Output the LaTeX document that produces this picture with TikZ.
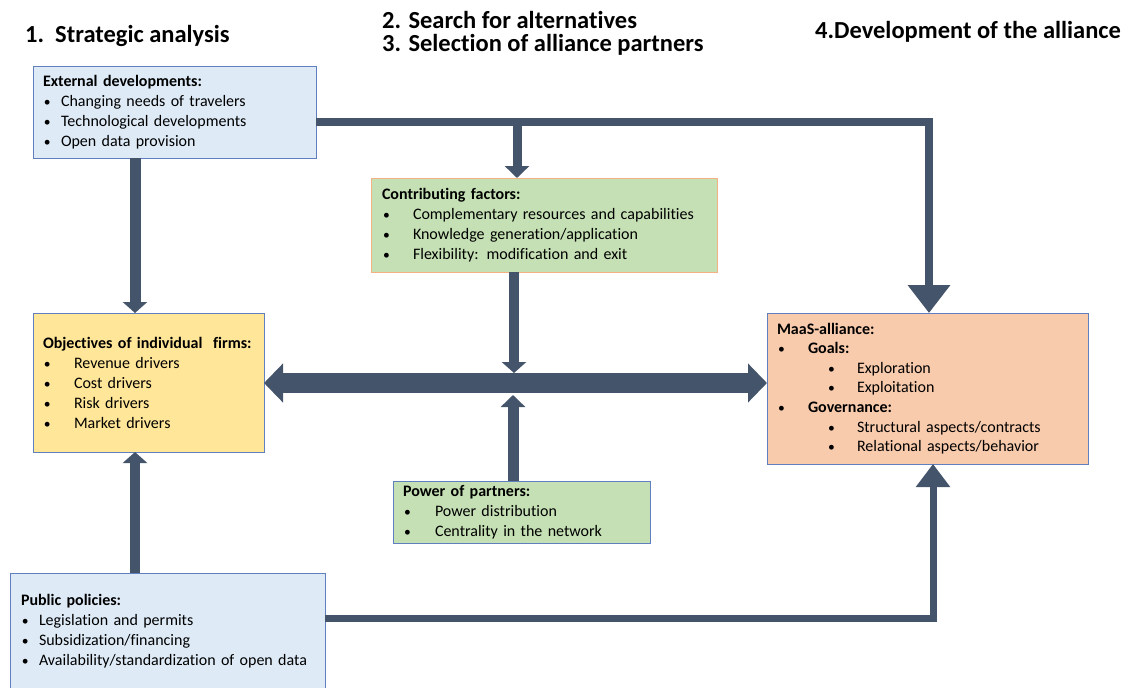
\documentclass[tikz,border=0pt]{standalone}
\usepackage{fontspec}
\setmainfont{Carlito}[Ligatures=CommonOff]
\usetikzlibrary{arrows.meta}
\definecolor{bluefill}{HTML}{DEEBF7}
\definecolor{boxline}{HTML}{5F7FBF}
\definecolor{greenfill}{HTML}{C5E0B4}
\definecolor{orangeline}{HTML}{F4B183}
\definecolor{yellowfill}{HTML}{FFE699}
\definecolor{peachfill}{HTML}{F8CBAD}
\definecolor{arrowc}{HTML}{44546A}
\newcommand\bu[2]{\makebox[#1][l]{\hspace{1pt}\scalebox{0.85}{\textbullet}}#2}
\tikzset{
  box/.style={draw=boxline, line width=0.9pt, anchor=north west, inner xsep=10pt, inner ysep=0pt,
    outer sep=0pt, align=left, font=\fontsize{16}{20}\selectfont},
  title/.style={anchor=base west, inner sep=0pt, font=\fontsize{24.5}{28}\selectfont\bfseries},
  conn/.style={draw=arrowc, line join=miter},
}
\begin{document}
\begin{tikzpicture}[x=1pt,y=-1pt]
\useasboundingbox (0,0) rectangle (1125,688);
% titles
\node[title] (t1) at (25,42) {1.\ \ Strategic analysis};
\node[title] (t2) at (382,28) {2. Search for alternatives};
\node[title] (t3) at (382,51) {3. Selection of alliance partners};
\node[title] (t4) at (815,38) {4.Development of the alliance};
% boxes
\node[box, fill=bluefill, text width=263pt, minimum height=92pt] (ext) at (33,66)
 {\textbf{External developments:}\\
  \bu{18pt}{Changing needs of travelers}\\
  \bu{18pt}{Technological developments}\\
  \bu{18pt}{Open data provision}};
\node[box, fill=greenfill, draw=orangeline, text width=324pt, minimum height=94pt, inner xsep=11pt] (contrib) at (371,178)
 {\textbf{Contributing factors:}\\
  \bu{31pt}{Complementary resources and capabilities}\\
  \bu{31pt}{Knowledge generation/application}\\
  \bu{31pt}{Flexibility: modification and exit}};
\node[box, fill=yellowfill, text width=211pt, minimum height=139pt] (obj) at (33,313)
 {\textbf{Objectives of individual\ \ firms:}\\
  \bu{31pt}{Revenue drivers}\\
  \bu{31pt}{Cost drivers}\\
  \bu{31pt}{Risk drivers}\\
  \bu{31pt}{Market drivers}};
\node[box, fill=peachfill, text width=301pt, minimum height=151pt, font=\fontsize{16}{19.6}\selectfont] (maas) at (767,313)
 {\textbf{MaaS-alliance:}\\
  \bu{31pt}{\textbf{Goals:}}\\
  \hspace{50pt}\bu{30pt}{Exploration}\\
  \hspace{50pt}\bu{30pt}{Exploitation}\\
  \bu{31pt}{\textbf{Governance:}}\\
  \hspace{50pt}\bu{30pt}{Structural aspects/contracts}\\
  \hspace{50pt}\bu{30pt}{Relational aspects/behavior}};
\node[box, fill=greenfill, text width=237pt, minimum height=62pt] (power) at (393,481)
 {\textbf{Power of partners:}\\
  \bu{32pt}{Power distribution}\\
  \bu{32pt}{Centrality in the network}};
\node[box, fill=bluefill, text width=293pt, minimum height=117pt, inner xsep=11pt] (pub) at (10,573)
 {\textbf{Public policies:}\\
  \bu{18pt}{Legislation and permits}\\
  \bu{18pt}{Subsidization/financing}\\
  \bu{18pt}{Availability/standardization of open data}};
% helper coordinates
\coordinate (xl) at (135,0);
\coordinate (c1) at (929,122);
\coordinate (j1) at (517,122);
\coordinate (mtop) at (514,373);
\coordinate (mbot) at (513,395);
\coordinate (c2) at (933,618);
\coordinate (hy) at (0,383);
% connectors
\draw[conn, line width=11pt, -{Triangle[width=24pt,length=11pt]}] (ext.south -| xl) -- (obj.north -| xl);
\draw[conn, line width=10pt, -{Triangle[width=24pt,length=11pt]}] (pub.north -| xl) -- (obj.south -| xl);
\draw[conn, line width=7.5pt, -{Triangle[width=41pt,length=28pt]}] (ext.east |- c1) -| (c1 |- maas.north);
\draw[conn, line width=9pt, -{Triangle[width=24pt,length=12pt]}] (j1) -- (j1 |- contrib.north);
\draw[conn, line width=10pt, -{Triangle[width=24pt,length=11pt]}] (mtop |- contrib.south) -- (mtop);
\draw[conn, line width=11pt, -{Triangle[width=24pt,length=12pt]}] (mbot |- power.north) -- (mbot);
\draw[conn, line width=20pt, {Triangle[width=38pt,length=19pt]}-{Triangle[width=38pt,length=19pt]}] (obj.east |- hy) -- (maas.west |- hy);
\draw[conn, line width=7pt, -{Triangle[width=33pt,length=23pt]}] (pub.east |- c2) -| (c2 |- maas.south);
\end{tikzpicture}
\end{document}
